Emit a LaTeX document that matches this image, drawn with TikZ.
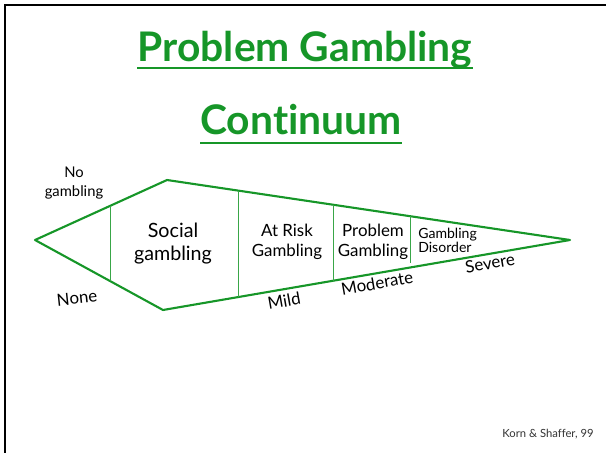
\documentclass[tikz,border=0pt]{standalone}
\usepackage{fontspec}
\setmainfont{Lato}[Ligatures=NoCommon]
\definecolor{gamblegreen}{RGB}{22,150,40}
\definecolor{creditgray}{RGB}{50,50,50}

\begin{document}
\begin{tikzpicture}[x=0.025cm,y=-0.025cm,
    edge/.style={gamblegreen,line width=1.5pt,line join=round},
    divider/.style={gamblegreen!85,line width=0.7pt},
    heading/.style={anchor=base,inner sep=0,text=gamblegreen,font=\fontsize{29}{30}\selectfont\bfseries},
    stage/.style={inner sep=0,align=center,font=\fontsize{12}{14.2}\selectfont},
    level/.style={inner sep=0,rotate=10,font=\fontsize{12}{14}\selectfont}]

          \useasboundingbox (0,0) rectangle (606,453);
          \draw[line width=1.4pt] (606,5) -- (5,5) -- (5,453);

          \node (title1) [heading] at (305,61.7) {Problem Gambling};
          \node (title2) [heading] at (301,135) {Continuum};
          \draw[gamblegreen,line width=1.4pt] ([yshift=-4.5pt]title1.base west) -- ([yshift=-4.5pt]title1.base east);
          \draw[gamblegreen,line width=1.4pt] ([yshift=-5.5pt]title2.base west) -- ([yshift=-5.5pt]title2.base east);

          \coordinate (tipL) at (35,240);
          \coordinate (topL) at (167,180);
          \coordinate (tipR) at (570,240);
          \coordinate (botL) at (163,310);
          \draw[edge] (tipL) -- (topL) -- (tipR) -- (botL) -- cycle;

          % stage borders
          \coordinate (D1t) at (110,206);
          \coordinate (D1b) at (110,281);
          \coordinate (D2t) at (238,191);
          \coordinate (D2b) at (238,297);
          \coordinate (D3t) at (333,205);
          \coordinate (D3b) at (333,281);
          \coordinate (D4t) at (410,216);
          \coordinate (D4b) at (410,263);
          \draw[divider] (D1t)--(D1b);
          \draw[divider] (D2t)--(D2b);
          \draw[divider] (D3t)--(D3b);
          \draw[divider] (D4t)--(D4b);

          \node (nogamb) [stage,font=\fontsize{10.5}{13.5}\selectfont] at (74,183) {No\\gambling};
          \node (social) [stage,font=\fontsize{14}{16.4}\selectfont] at (173,244) {Social\\gambling};
          \node (atrisk) [stage] at (287,242) {At Risk\\Gambling};
          \node (problem) [stage] at (373,242) {Problem\\Gambling};
          \node (disorder) [stage,anchor=west,align=left,font=\fontsize{10}{10}\selectfont] at (418,240) {Gambling\\Disorder};

          \node (none) [level,rotate=-4] at (77,298) {None};
          \node (mild) [level] at (284,301) {Mild};
          \node (moderate) [level] at (377,283) {Moderate};
          \node (severe) [level] at (490,263) {Severe};

          \node (credit) [inner sep=0,text=creditgray,font=\fontsize{8}{9}\selectfont] at (548,434) {Korn \& Shaffer, 99};

        \end{tikzpicture}
\end{document}
